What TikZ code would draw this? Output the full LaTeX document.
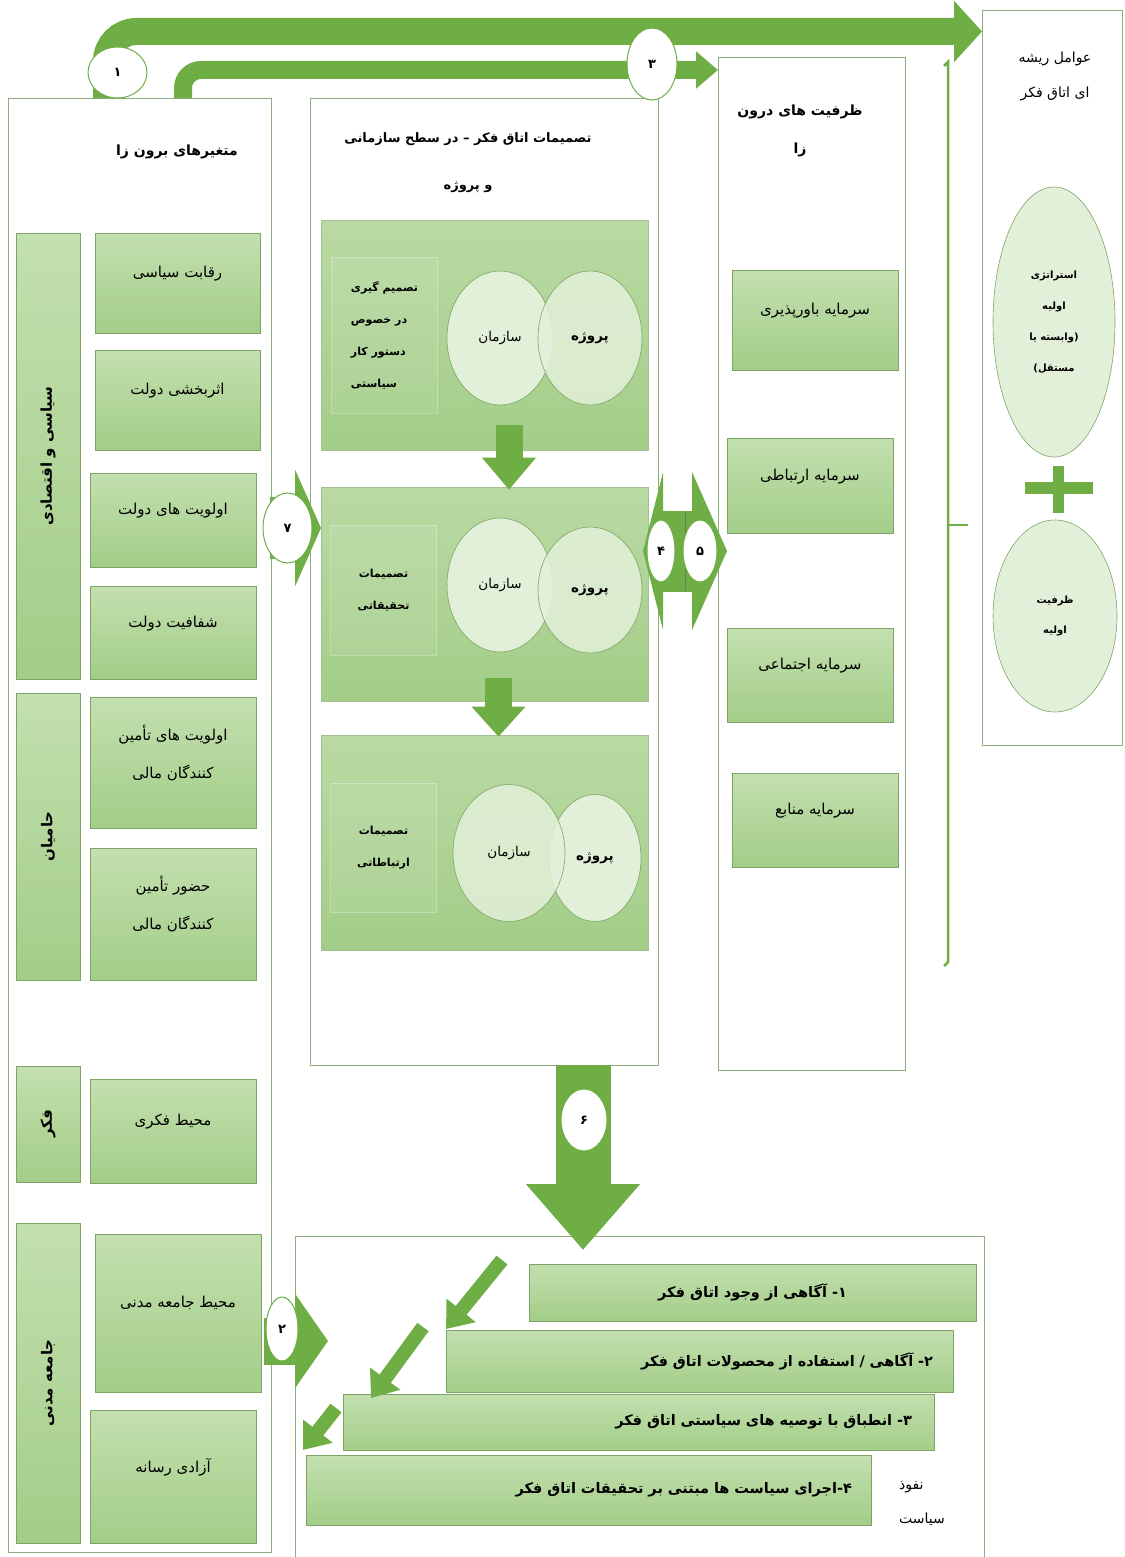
\documentclass[tikz,border=0pt]{standalone}
\usepackage{fontspec}
\newfontfamily\arabicfont[Script=Arabic]{DejaVu Sans}
\TeXXeTstate=1
\newcommand{\fa}[1]{\beginR #1\endR}
\usetikzlibrary{arrows.meta,shapes.geometric}
\definecolor{gTop}{HTML}{C3E0AF}
\definecolor{gBot}{HTML}{A3CD88}
\definecolor{gEdge}{HTML}{7FA566}
\definecolor{gArrow}{HTML}{6FAE45}
\definecolor{gPale}{HTML}{E3F0D9}
\definecolor{frameEdge}{HTML}{8EAD7C}
\tikzset{%
  % Specifications for style of nodes:
       frame/.style = {rectangle, draw=frameEdge, fill=white, line width=0.9pt,
                       inner sep=0pt, outer sep=0pt},
     heading/.style = {align=center, inner sep=0pt,
                       font=\arabicfont\bfseries\fontsize{14}{40}\selectfont},
     itembox/.style = {rectangle, draw=gEdge, top color=gTop, bottom color=gBot,
                       line width=0.8pt, inner sep=0pt, outer sep=0pt,
                       minimum width=166pt, align=center, text depth=22pt,
                       font=\arabicfont\fontsize{15}{38}\selectfont},
      catbox/.style = {rectangle, draw=gEdge, top color=gTop, bottom color=gBot,
                       line width=0.8pt, inner sep=0pt, rotate=90, minimum height=64pt,
                       font=\arabicfont\bfseries\fontsize{15}{20}\selectfont},
       panel/.style = {rectangle, draw=gEdge!70, top color=gTop!70!gBot, bottom color=gBot,
                       line width=0.6pt, minimum width=327pt, inner sep=0pt},
     notebox/.style = {rectangle, draw=white, draw opacity=0.3, fill=white, fill opacity=0.08,
                       text opacity=1, minimum width=106pt, align=left, inner sep=0pt,
                       font=\arabicfont\bfseries\fontsize{11}{32}\selectfont},
        venn/.style = {ellipse, draw=gEdge, fill=gPale, line width=0.6pt, inner sep=0pt,
                       font=\arabicfont\fontsize{13.5}{14}\selectfont},
      numdot/.style = {ellipse, draw=gArrow, fill=white, line width=1pt, inner sep=0pt,
                       font=\arabicfont\bfseries\fontsize{13}{14}\selectfont},
     stepbar/.style = {rectangle, draw=gEdge, top color=gTop, bottom color=gBot,
                       line width=0.8pt, inner sep=0pt,
                       font=\arabicfont\bfseries\fontsize{14.5}{20}\selectfont},
  blockarrow/.style = {draw=gArrow, line cap=butt},
}

\begin{document}
\begin{tikzpicture}[x=1pt, y=-1pt]
  \useasboundingbox (0,0) rectangle (1124,1557);

  % outer frames
  \node (exo)  [frame, minimum width=263pt, minimum height=1454pt] at (139.5,825) {};
  \node (mid)  [frame, minimum width=348pt, minimum height=967pt]  at (484,581.5) {};
  \node (cap)  [frame, minimum width=187pt, minimum height=1013pt] at (811.5,563.5) {};
  \node (root) [frame, minimum width=140pt, minimum height=735pt]  at (1052,377.5) {};
  \node (bot)  [frame, minimum width=689pt, minimum height=328pt]  at (639.5,1400) {};

  % top arrows 1 and 3
  \draw[blockarrow, line width=27pt, rounded corners=30pt, -{Triangle[length=28pt,width=60pt]}]
       ([xshift=98.5pt]exo.north west) |- ([yshift=-21.5pt]root.north west);
  \draw[blockarrow, line width=18pt, rounded corners=18pt, -{Triangle[length=22pt,width=36pt]}]
       ([xshift=175pt]exo.north west) |- ([yshift=-13pt]cap.north west);
  \node (n1) [numdot, minimum width=59pt, minimum height=51pt] at (117.5,72.5) {۱};
  \node (n3) [numdot, minimum width=50pt, minimum height=72pt] at (652,64) {۳};

  % headings
  \node (exoT)  [heading] at (177,152) {\fa{متغیرهای برون زا}};
  \node (midT)  [heading, font=\arabicfont\bfseries\fontsize{13}{47}\selectfont] at (468,163)
        {\fa{تصمیمات اتاق فکر – در سطح سازمانی}\\\fa{و پروژه}};
  \node (capT)  [heading, font=\arabicfont\bfseries\fontsize{14}{38}\selectfont] at (800,131)
        {\fa{ظرفیت های درون}\\\fa{زا}};
  \node (rootT) [heading, font=\arabicfont\fontsize{14}{35}\selectfont] at (1055,76)
        {\fa{عوامل ریشه}\\\fa{ای اتاق فکر}};

  % exogenous variables
  \node (c1) [catbox, minimum width=446pt] at (48,456)  {\fa{سیاسی و اقتصادی}};
  \node (c2) [catbox, minimum width=287pt] at (48,836.5) {\fa{حامیان}};
  \node (c3) [catbox, minimum width=116pt] at (48,1124) {\fa{فکر}};
  \node (c4) [catbox, minimum width=320pt] at (48,1383) {\fa{جامعه مدنی}};

  \node (r1) [itembox, minimum width=165pt, minimum height=100pt] at (177.5,283) {\fa{رقابت سیاسی}};
  \node (r2) [itembox, minimum width=165pt, minimum height=100pt] at (177.5,400) {\fa{اثربخشی دولت}};
  \node (r3) [itembox, minimum height=94pt]  at (173,520)   {\fa{اولویت های دولت}};
  \node (r4) [itembox, minimum height=93pt]  at (173,632.5) {\fa{شفافیت دولت}};
  \node (r5) [itembox, minimum height=131pt] at (173,762.5) {\fa{اولویت های تأمین}\\\fa{کنندگان مالی}};
  \node (r6) [itembox, minimum height=132pt] at (173,914)   {\fa{حضور تأمین}\\\fa{کنندگان مالی}};
  \node (r7) [itembox, minimum height=104pt] at (173,1131)  {\fa{محیط فکری}};
  \node (r8) [itembox, minimum height=158pt] at (178,1313)  {\fa{محیط جامعه مدنی}};
  \node (r9) [itembox, minimum height=133pt] at (173,1476.5) {\fa{آزادی رسانه}};

  % think tank decisions
  \node (p1) [panel, minimum height=230pt] at (484.5,335) {};
  \node (p2) [panel, minimum height=214pt] at (484.5,594) {};
  \node (p3) [panel, minimum height=215pt] at (484.5,842.5) {};

  \node (t1) [notebox, minimum height=156pt] at (384.5,335)
        {\fa{تصمیم گیری}\\\fa{در خصوص}\\\fa{دستور کار}\\\fa{سیاستی}};
  \node (t2) [notebox, align=center, minimum height=130pt] at (383.5,590)
        {\fa{تصمیمات}\\\fa{تحقیقاتی}};
  \node (t3) [notebox, align=center, minimum height=129pt] at (383.5,847.5)
        {\fa{تصمیمات}\\\fa{ارتباطاتی}};

  \node (org1) [venn, minimum width=106pt, minimum height=134pt] at (500,338) {\fa{سازمان}};
  \node (prj1) [venn, fill opacity=0.85, text opacity=1, minimum width=104pt, minimum height=134pt]
        at (590,338) {\bfseries\fa{پروژه}};
  \node (org2) [venn, minimum width=106pt, minimum height=134pt] at (500,585) {\fa{سازمان}};
  \node (prj2) [venn, fill opacity=0.85, text opacity=1, minimum width=104pt, minimum height=126pt]
        at (590,590) {\bfseries\fa{پروژه}};
  \node (prj3) [venn, minimum width=92pt, minimum height=127pt] at (595,858) {\bfseries\fa{پروژه}};
  \node (org3) [venn, fill opacity=0.85, text opacity=1, minimum width=112pt, minimum height=137pt]
        at (509,853) {\fa{سازمان}};

  \draw[blockarrow, line width=27pt, -{Triangle[length=32pt,width=52pt]}]
       ([xshift=24.5pt,yshift=25pt]p1.south) -- ([xshift=24.5pt,yshift=-3pt]p2.north);
  \draw[blockarrow, line width=27pt, -{Triangle[length=30pt,width=52pt]}]
       ([xshift=14pt,yshift=23pt]p2.south) -- ([xshift=14pt,yshift=-2pt]p3.north);

  % endogenous capacities
  \node (k1) [itembox, minimum height=100pt] at (815,320)   {\fa{سرمایه باورپذیری}};
  \node (k2) [itembox, minimum height=95pt]  at (810,485.5) {\fa{سرمایه ارتباطی}};
  \node (k3) [itembox, minimum height=94pt]  at (810,675)   {\fa{سرمایه اجتماعی}};
  \node (k4) [itembox, minimum height=94pt]  at (815,820)   {\fa{سرمایه منابع}};

  % root factors
  \node (st1) [venn, minimum width=122pt, minimum height=270pt, align=center,
               font=\arabicfont\bfseries\fontsize{10}{31}\selectfont] at (1054,322)
        {\fa{استراتژی}\\\fa{اولیه}\\\fa{(وابسته یا}\\\fa{مستقل)}};
  \fill[gArrow] (1025,482) rectangle (1093,494);
  \fill[gArrow] (1053,466) rectangle (1064,513);
  \node (st2) [venn, minimum width=124pt, minimum height=192pt, align=center,
               font=\arabicfont\bfseries\fontsize{10}{30}\selectfont] at (1055,616)
        {\fa{ظرفیت}\\\fa{اولیه}};
  \draw[gArrow, line width=2.5pt] (944,66) -- (948,62) -- (948,962) -- (944,966);
  \draw[gArrow, line width=2.5pt] (948,525) -- (968,525);

  % arrows 7, 4, 5
  \coordinate (a7s) at (270,528);
  \coordinate (a7e) at (321,528);
  \draw[blockarrow, line width=62pt, -{Triangle[length=26pt,width=116pt]}] (a7s) -- (a7e);
  \node (n7) [numdot, minimum width=49pt, minimum height=70pt] at (287.5,528) {۷};

  \coordinate (a45) at (685,551);
  \draw[blockarrow, line width=81pt, -{Triangle[length=20pt,width=157pt]}] (a45) -- (643,551);
  \draw[blockarrow, line width=81pt, -{Triangle[length=35pt,width=157pt]}] (a45) -- (727,551);
  \draw[gEdge!80!black, line width=0.8pt] (685,511) -- (685,591);
  \node (n4) [numdot, minimum width=28pt, minimum height=62pt] at (661,551) {۴};
  \node (n5) [numdot, minimum width=34pt, minimum height=62pt] at (700,551) {۵};

  % policy influence
  \node (b1) [stepbar, minimum width=447pt, minimum height=57pt] at (752.5,1292.5)
        {\fa{۱- آگاهی از وجود اتاق فکر}};
  \node (b2) [stepbar, minimum width=507pt, minimum height=62pt, text width=467pt, align=right]
        at (699.5,1361) {\fa{۲- آگاهی / استفاده از محصولات اتاق فکر}};
  \node (b3) [stepbar, minimum width=591pt, minimum height=56pt, text width=547pt, align=right]
        at (638.5,1422) {\fa{۳- انطباق با توصیه های سیاستی اتاق فکر}};
  \node (b4) [stepbar, minimum width=565pt, minimum height=70pt, text width=527pt, align=right]
        at (588.5,1490) {\fa{۴-اجرای سیاست ها مبتنی بر تحقیقات اتاق فکر}};
  \node (inf) [align=left, inner sep=0pt, font=\arabicfont\fontsize{14}{34}\selectfont]
        at (922,1503) {\fa{نفوذ}\\\fa{سیاست}};

  \coordinate (d1s) at (502,1260); \coordinate (d1e) at (446,1329);
  \coordinate (d2s) at (423,1327); \coordinate (d2e) at (371,1398);
  \coordinate (d3s) at (336,1408); \coordinate (d3e) at (303,1450);
  \foreach \s/\e in {d1s/d1e, d2s/d2e, d3s/d3e}
    \draw[blockarrow, line width=14pt, -{Triangle[length=24pt,width=36pt]}] (\s) -- (\e);

  % arrows 6 and 2
  \draw[blockarrow, line width=55pt, -{Triangle[length=66pt,width=110pt]}]
       ([xshift=99pt]mid.south) -- ([xshift=-56.5pt,yshift=-14pt]bot.north);
  \node (n6) [numdot, minimum width=46pt, minimum height=62pt] at (584,1120) {۶};

  \coordinate (a2s) at (264,1341);
  \coordinate (a2e) at (328,1341);
  \draw[blockarrow, line width=47pt, -{Triangle[length=33pt,width=93pt]}] (a2s) -- (a2e);
  \node (n2) [numdot, minimum width=32pt, minimum height=64pt] at (282,1329) {۲};
\end{tikzpicture}
\end{document}
